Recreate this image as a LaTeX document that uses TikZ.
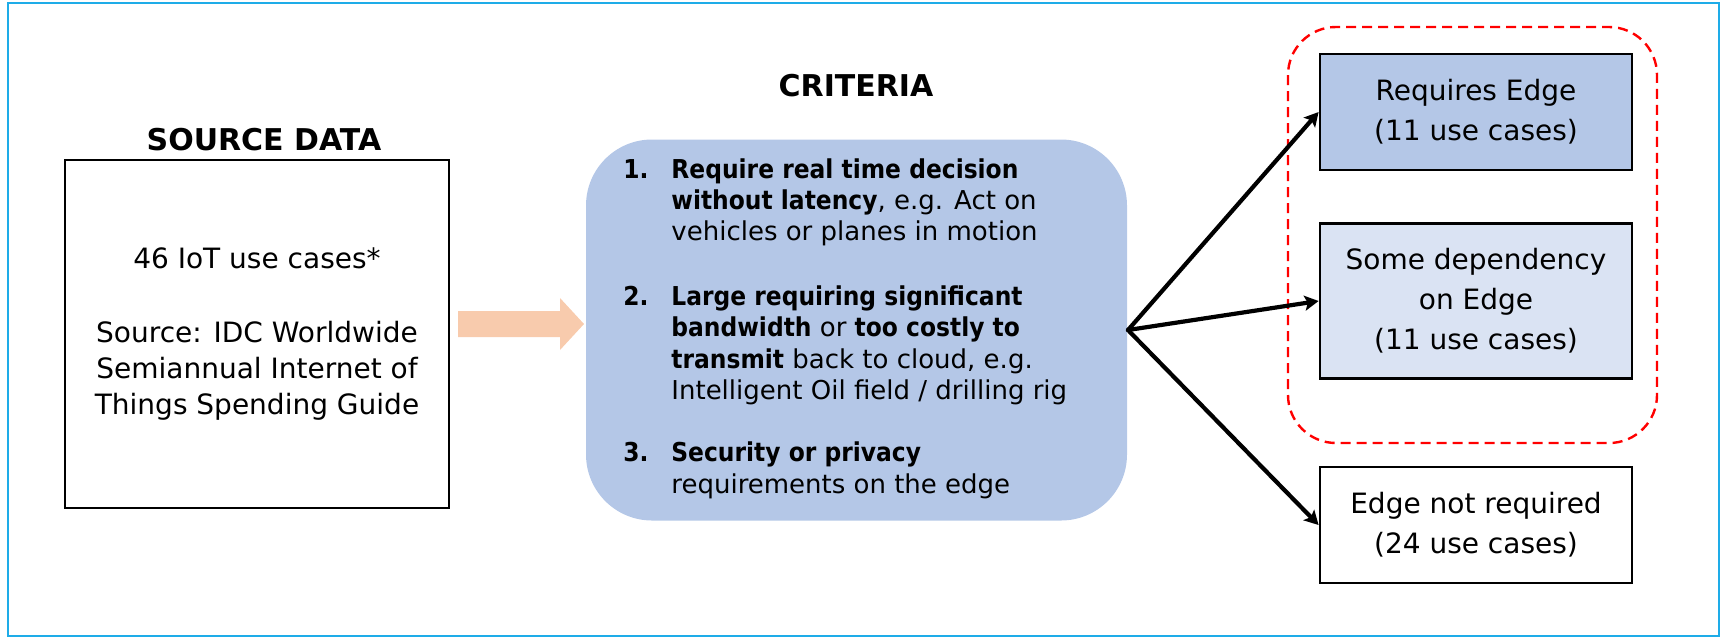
\documentclass[tikz,border=0pt]{standalone}
\usepackage{fontspec}
\setmainfont{DejaVu Sans}
\newfontfamily\critfont{DejaVu Sans}[BoldFeatures={FakeStretch=0.9}]
\usetikzlibrary{arrows.meta}
\definecolor{frameblue}{RGB}{30,172,232}
\definecolor{critfill}{HTML}{B4C7E7}
\definecolor{depfill}{HTML}{DAE3F3}
\definecolor{peach}{HTML}{F8CBAD}
\definecolor{dashred}{HTML}{FF0000}
\tikzset{
  title/.style={font=\fontsize{15}{18}\selectfont\bfseries, inner sep=0pt},
  srcbox/.style={draw, line width=1.3pt, minimum width=192pt, minimum height=174pt,
    align=center, font=\fontsize{14}{18}\selectfont, inner sep=0pt},
  critbox/.style={fill=critfill, rounded corners=33pt, minimum width=270.5pt,
    minimum height=190.5pt, inner sep=0pt},
  outbox/.style={draw, line width=1.4pt, minimum width=156pt, align=center,
    font=\fontsize{14}{20}\selectfont, inner sep=0pt},
  conn/.style={line width=2.1pt, line cap=round, -{Stealth[length=7pt,width=7.5pt,inset=1.5pt]}},
}
\begin{document}
\begin{tikzpicture}[x=0.5pt,y=-0.5pt]
\useasboundingbox (0,0) rectangle (1725,639);
\draw[frameblue, line width=1.3pt] (8,3) rectangle (1719,636);

% source
\node[title] (srctitle) at (264,140) {SOURCE DATA};
\node[srcbox] (src) at (257,334) {46 IoT use cases*\\[19pt]Source: IDC Worldwide\\Semiannual Internet of\\Things Spending Guide};

% block arrow
\fill[peach] (458,311) -- (560,311) -- (560,298) -- (584,324) -- (560,350) -- (560,337) -- (458,337) -- cycle;

% criteria
\node[title] (crittitle) at (856,86) {CRITERIA};
\node[critbox] (crit) at (856.5,330) {};
\node[anchor=base west, inner sep=0pt, font=\critfont\fontsize{13}{15.7}\selectfont] (crittext) at (623,178) {%
\begin{tabular}[t]{@{}p{24pt}@{}l@{}}
\textbf{1.} & \textbf{Require real time decision}\\
 & \textbf{without latency}, e.g. Act on\\
 & vehicles or planes in motion\\[16.5pt]
\textbf{2.} & \textbf{Large requiring significant}\\
 & \textbf{bandwidth} or \textbf{too costly to}\\
 & \textbf{transmit} back to cloud, e.g.\\
 & Intelligent Oil field / drilling rig\\[15.5pt]
\textbf{3.} & \textbf{Security or privacy}\\
 & requirements on the edge
\end{tabular}};

% outcome group
\draw[dashred, line width=1.2pt, dash pattern=on 5pt off 3pt, rounded corners=24pt] (1288,27) rectangle (1657,443);
\node[outbox, fill=critfill, minimum height=58pt] (req) at (1476,112) {Requires Edge\\(11 use cases)};
\node[outbox, fill=depfill, minimum height=77.5pt] (dep) at (1476,301) {Some dependency\\on Edge\\(11 use cases)};
\node[outbox, fill=white, minimum height=58pt] (nreq) at (1476,525) {Edge not required\\(24 use cases)};

\coordinate (hub) at (1128,330);
\draw[conn] (hub) -- (req.west);
\draw[conn] (hub) -- (dep.west);
\draw[conn] (hub) -- (nreq.west);
\end{tikzpicture}
\end{document}
